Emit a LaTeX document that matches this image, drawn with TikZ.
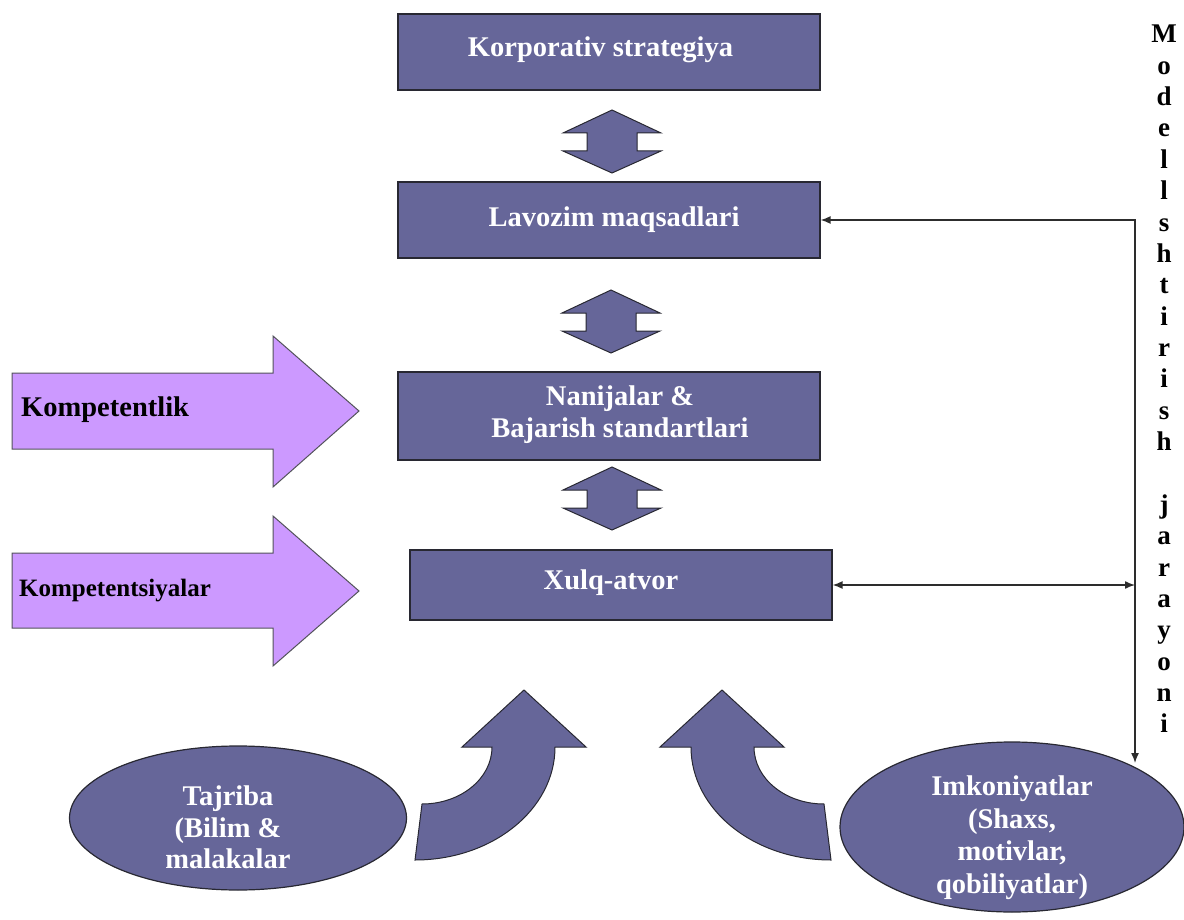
\documentclass[tikz,border=0pt]{standalone}
\usepackage{fontspec}
\setmainfont{Liberation Serif}
\usetikzlibrary{shapes.geometric,arrows.meta,calc}
\definecolor{boxfill}{RGB}{102,102,153}
\definecolor{lilac}{RGB}{204,153,255}
\definecolor{edgec}{RGB}{40,40,50}
\definecolor{linec}{RGB}{45,45,45}
\begin{document}
\begin{tikzpicture}[x=1pt,y=-1pt,
  box/.style={draw=edgec, fill=boxfill, line width=1.2pt, inner sep=0pt},
  btxt/.style={text=white, font=\bfseries\fontsize{28.5}{32}\selectfont, inner sep=0pt},
  shp/.style={draw=edgec, fill=boxfill, line width=1pt, line join=miter},
  lil/.style={draw=edgec!80, fill=lilac, line width=1pt, line join=miter},
  ktxt/.style={text=black, inner sep=0pt, anchor=base west},
  conn/.style={draw=linec, line width=1.4pt, {Latex[length=10pt,width=8pt]}-{Latex[length=10pt,width=8pt]}},
  vtxt/.style={text=black, inner sep=0pt, align=center, font=\bfseries\fontsize{27}{31.36}\selectfont}
]
\useasboundingbox (0,0) rectangle (1184,920);

% main boxes
\node[box, minimum width=422pt, minimum height=76pt] (kor) at (609,52) {};
\node[box, minimum width=422pt, minimum height=76pt] (lav) at (609,220) {};
\node[box, minimum width=422pt, minimum height=88pt] (nan) at (609,416) {};
\node[box, minimum width=422pt, minimum height=70pt] (xul) at (621,585) {};

\node[btxt, anchor=base] (korT) at (600.5,57) {Korporativ strategiya};
\node[btxt, anchor=base] (lavT) at (614,227) {Lavozim maqsadlari};
\node[btxt, anchor=north, align=center] (nanT) at (620,385.5) {Nanijalar \&\\Bajarish standartlari};
\node[btxt, anchor=base] (xulT) at (611,589) {Xulq-atvor};

% double arrows between boxes
\coordinate (d1) at (612,110);
\coordinate (d2) at (611,290);
\coordinate (d3) at (612,467);
\foreach \d in {d1,d2,d3}{
  \filldraw[shp] (\d) -- ++(49,23) -- ++(-24,0) -- ++(0,18) -- ++(24,0) -- ++(-49,22)
     -- ++(-49,-22) -- ++(24,0) -- ++(0,-18) -- ++(-24,0) -- cycle;
}

% lilac arrows
\filldraw[lil] (12,373) -- (273,373) -- (273,336) -- (359,411) -- (273,487) -- (273,449) -- (12,449) -- cycle;
\filldraw[lil] (12,553) -- (273,553) -- (273,516) -- (359,591) -- (273,666) -- (273,628) -- (12,628) -- cycle;
\node[ktxt, font=\bfseries\fontsize{28.5}{32}\selectfont] (komp1) at (21,416) {Kompetentlik};
\node[ktxt, font=\bfseries\fontsize{25}{30}\selectfont] (komp2) at (19,596.5) {Kompetentsiyalar};

% ellipses
\node[ellipse, draw=edgec, fill=boxfill, line width=1.2pt, minimum width=337pt, minimum height=144pt, inner sep=0pt] (taj) at (238,818) {};
\node[ellipse, draw=edgec, fill=boxfill, line width=1.2pt, minimum width=344pt, minimum height=170pt, inner sep=0pt] (imk) at (1012,827) {};
\node[btxt, anchor=north, align=center, font=\bfseries\fontsize{28.5}{31.5}\selectfont] (tajT) at (228,786) {Tajriba\\(Bilim \&\\malakalar};
\node[btxt, anchor=north, align=center, font=\bfseries\fontsize{28.5}{32.5}\selectfont] (imkT) at (1012,776) {Imkoniyatlar\\(Shaxs,\\motivlar,\\qobiliyatlar)};

% curved arrows
\filldraw[shp] (524,690) -- (586,747) -- (555,747)
  .. controls (555,809.4) and (492.3,860) .. (415,860)
  -- (422,804)
  .. controls (460.7,804) and (492,778.5) .. (492,747)
  -- (462,747) -- cycle;
\filldraw[shp] (722,690) -- (660,747) -- (691,747)
  .. controls (691,809.4) and (753.7,860) .. (831,860)
  -- (824,804)
  .. controls (785.3,804) and (754,778.5) .. (754,747)
  -- (784,747) -- cycle;

% right connectors
\coordinate (corner) at (1135,219);
\coordinate (drop) at (1135,763);
\draw[conn] (lav.east) -- (lav.east -| corner) -- (drop);
\draw[conn] (xul.east) -- (xul.east -| corner);

% vertical label
\node[vtxt, anchor=north] (vt) at (1164,25) {M\\o\\d\\e\\l\\l\\s\\h\\t\\i\\r\\i\\s\\h\\~\\j\\a\\r\\a\\y\\o\\n\\i};
\end{tikzpicture}
\end{document}
